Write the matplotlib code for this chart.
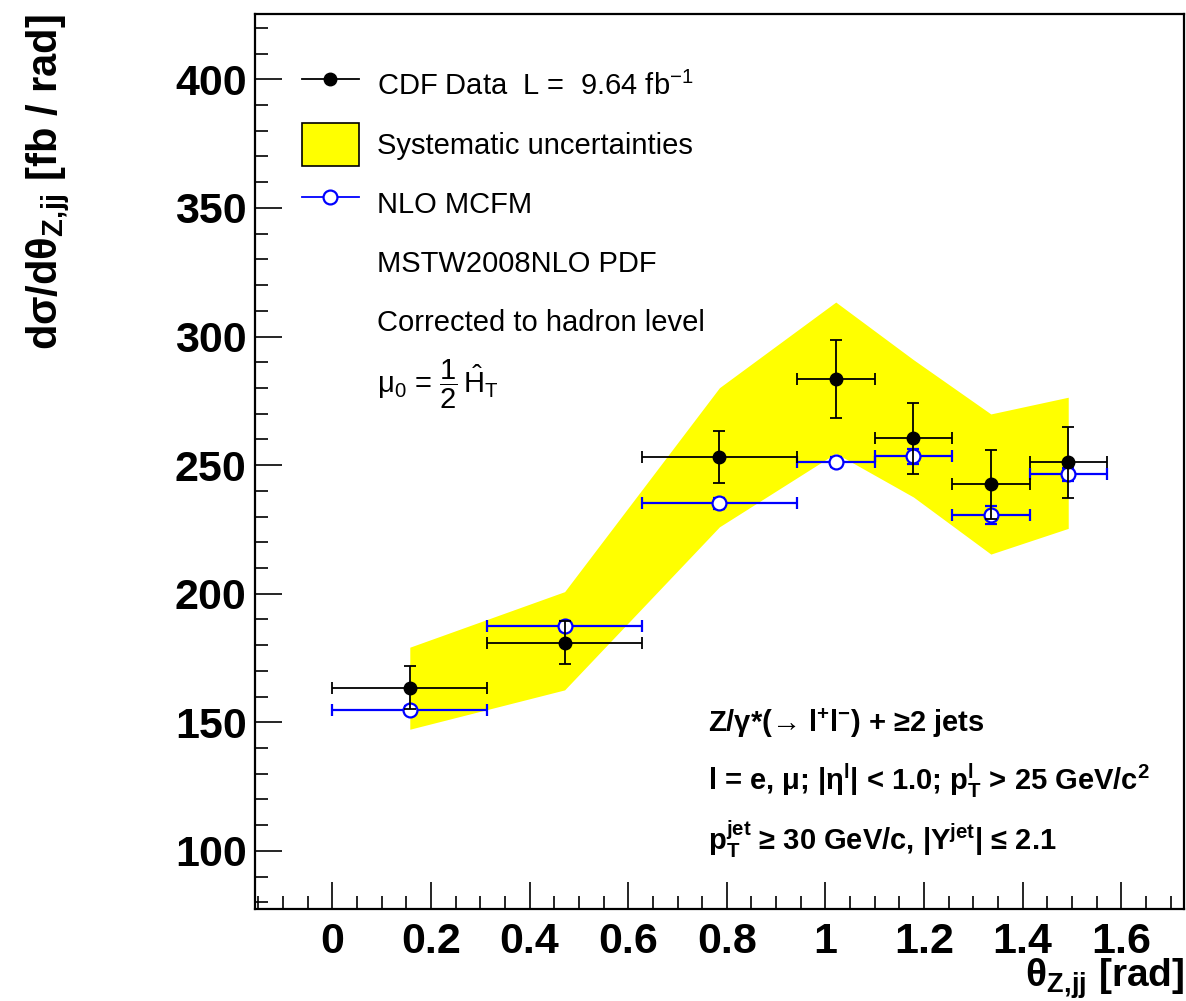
import numpy as np
import matplotlib
matplotlib.use("Agg")
import matplotlib.pyplot as plt
from matplotlib.lines import Line2D
from matplotlib.patches import Patch, Rectangle
from matplotlib.legend_handler import HandlerPatch
from matplotlib.ticker import MultipleLocator, FixedLocator, FixedFormatter

plt.rcParams["font.family"] = ["Liberation Sans", "DejaVu Sans"]
plt.rcParams["mathtext.fontset"] = "custom"
plt.rcParams["mathtext.rm"] = "Liberation Sans"
plt.rcParams["mathtext.it"] = "Liberation Sans:italic"
plt.rcParams["mathtext.bf"] = "Liberation Sans:bold"
plt.rcParams["mathtext.default"] = "regular"

# bin edges in theta_Z,jj [rad]
bin_edges = [0.0, 0.314, 0.628, 0.942, 1.100, 1.257, 1.414, 1.571]

# CDF data
cdf_y = [163.5, 181.0, 253.2, 283.5, 260.4, 242.5, 251.1]
cdf_err = [8.2, 8.5, 10.1, 15.0, 13.8, 13.5, 13.8]

# NLO MCFM prediction
nlo_y = [154.8, 187.4, 235.1, 251.3, 253.4, 230.6, 246.4]
nlo_err = [1.5, 2.0, 2.0, 2.0, 3.0, 3.6, 2.5]

# systematic band (drawn through bin centres)
band_hi = [179.2, 200.8, 280.1, 313.4, 291.0, 269.9, 276.4]
band_lo = [147.3, 162.6, 226.0, 254.6, 237.6, 215.4, 225.4]

xtick_vals = [0, 0.2, 0.4, 0.6, 0.8, 1.0, 1.2, 1.4, 1.6]
xtick_labels = ["0", "0.2", "0.4", "0.6", "0.8", "1", "1.2", "1.4", "1.6"]
ytick_vals = [100, 150, 200, 250, 300, 350, 400]

edges = np.array(bin_edges)
x_c = 0.5 * (edges[:-1] + edges[1:])
x_w = 0.5 * (edges[1:] - edges[:-1])

fig = plt.figure(figsize=(11.86, 10.01), dpi=100)
ax = fig.add_axes([0.215, 0.0919, 0.7836, 0.8941])

ax.fill_between(x_c, band_lo, band_hi, color="#ffff00", lw=0, zorder=1)

ax.errorbar(x_c, nlo_y, xerr=x_w, yerr=nlo_err, fmt="o", color="blue",
            mfc="white", mec="blue", ms=10, mew=1.6, elinewidth=1.6,
            capsize=4, capthick=1.6, zorder=3)
ax.errorbar(x_c, cdf_y, xerr=x_w, yerr=cdf_err, fmt="o", color="black",
            ms=9, elinewidth=1.3, capsize=4, capthick=1.3, zorder=4)

ax.set_xlim(-0.157, 1.728)
ax.set_ylim(77.4, 425.4)

ax.xaxis.set_major_locator(FixedLocator(xtick_vals))
ax.xaxis.set_major_formatter(FixedFormatter(xtick_labels))
ax.xaxis.set_minor_locator(MultipleLocator(0.05))
ax.yaxis.set_major_locator(FixedLocator(ytick_vals))
ax.yaxis.set_minor_locator(MultipleLocator(10))

ax.tick_params(which="both", direction="in", top=False, right=False, width=1.2)
ax.tick_params(which="major", length=19.5)
ax.tick_params(which="minor", length=9.6)
ax.tick_params(axis="x", which="major", labelsize=31, pad=9)
ax.tick_params(axis="y", which="major", labelsize=31, pad=6)
for lab in ax.get_xticklabels() + ax.get_yticklabels():
    lab.set_fontweight("bold")
for sp in ax.spines.values():
    sp.set_linewidth(1.6)

ax.set_xlabel(r"$\theta_{Z,\!jj}$ [rad]", fontsize=28, fontweight="bold", loc="right")
ax.xaxis.set_label_coords(1.0, -0.0525)
ax.set_ylabel(r"d$\sigma$/d$\theta_{Z,\!jj}$ [fb / rad]", fontsize=30,
              fontweight="bold", loc="top")
ax.yaxis.set_label_coords(-0.197, 1.0)


def sys_box(legend, orig_handle, xdescent, ydescent, width, height, fontsize):
    return Rectangle((-xdescent, -ydescent + 0.02 * height), width, 0.96 * height)


# legend
h_data = Line2D([], [], color="black", marker="o", ms=9, lw=1.3)
h_sys = Patch(facecolor="#ffff00", edgecolor="black", lw=1.2)
h_nlo = Line2D([], [], color="blue", marker="o", mfc="white", mec="blue",
               ms=10, mew=1.6, lw=1.3)
blank = Line2D([], [], lw=0, alpha=0)
leg = ax.legend([h_data, h_sys, h_nlo, blank, blank, blank],
                [r"CDF Data  L =  9.64 fb$^{-1}$",
                 "Systematic uncertainties",
                 "NLO MCFM",
                 "MSTW2008NLO PDF",
                 "Corrected to hadron level",
                 r"$\mu_{0}$ = $\dfrac{1}{2}\,\hat{H}_{T}$"],
                handler_map={h_sys: HandlerPatch(patch_func=sys_box)},
                loc="upper left", bbox_to_anchor=(0.0506, 0.9453),
                frameon=False, fontsize=21, handlelength=1.95,
                handleheight=2.0, handletextpad=0.62, labelspacing=0.48,
                borderpad=0, borderaxespad=0)

# selection text
sel = [r"Z/γ*(→ l$^{+}$l$^{-}$) + ≥2 jets",
       r"l = e, μ; |η$^{l}$| < 1.0; p$_{T}^{l}$ > 25 GeV/c$^{2}$",
       r"p$_{T}^{jet}$ ≥ 30 GeV/c, |Y$^{jet}$| ≤ 2.1"]
sel_y = [0.1978, 0.133, 0.0659]
for s, yy in zip(sel, sel_y):
    ax.text(0.4876, yy, s, transform=ax.transAxes, fontsize=21,
            fontweight="bold", va="baseline", ha="left")

fig.savefig("out.png", dpi=100)
